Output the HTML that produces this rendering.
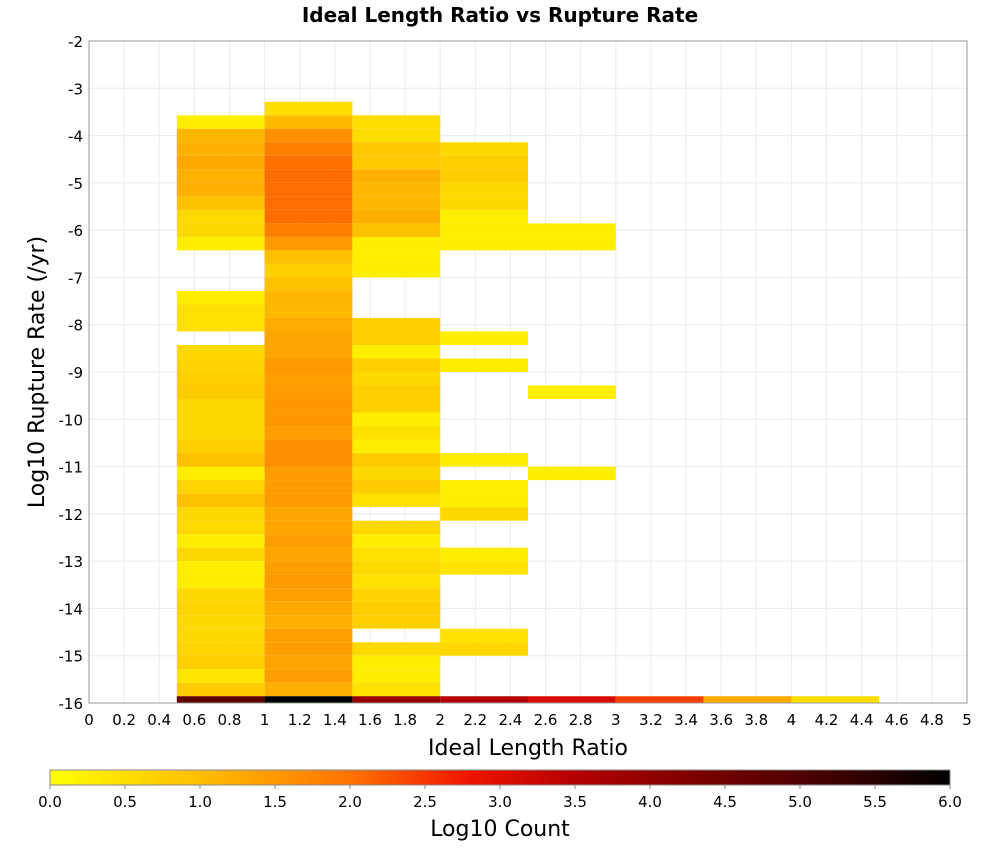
<!DOCTYPE html>
<html><head><meta charset="utf-8"><style>
body{margin:0;background:#fff;}
svg text{font-family:"DejaVu Sans","Liberation Sans",sans-serif;}
</style></head><body>
<svg id="chart" width="1000" height="850" xmlns="http://www.w3.org/2000/svg">
<text x="500" y="22" text-anchor="middle" font-size="20" font-weight="bold">Ideal Length Ratio vs Rupture Rate</text>
<g id="grid"></g>
<g id="cells"></g>
<rect x="89" y="41" width="878" height="662" fill="none" stroke="#999" stroke-width="1"/>
<g id="xticks"></g>
<g id="yticks"></g>
<text x="528" y="755" text-anchor="middle" font-size="22">Ideal Length Ratio</text>
<text transform="translate(44,372) rotate(-90)" text-anchor="middle" font-size="22">Log10 Rupture Rate (/yr)</text>
<defs><linearGradient id="cbg" x1="0" x2="1" y1="0" y2="0"></linearGradient></defs>
<rect x="50" y="770" width="900" height="15" fill="url(#cbg)" stroke="#888" stroke-width="1"/>
<g id="cbticks"></g>
<text x="500" y="836" text-anchor="middle" font-size="22">Log10 Count</text>
</svg>
<script>
const binWidthX = 0.5;
const binHeightY = 14/49;
const xBinStarts = [0.5,1,1.5,2,2.5,3,3.5,4];
const col0 = [null,.26,1.08,1.19,1.29,1.19,1.19,.97,.6,.6,.26,null,null,null,.26,.48,.48,null,.6,.65,.72,.78,.6,.6,.6,.72,.97,.26,.65,.97,.6,.6,.26,.6,.26,.26,.6,.65,.6,.6,.65,.72,.4,.78,4.7];
const col1 = [.52,1.04,1.61,1.84,2.03,2.05,2.05,2.05,2.03,1.83,1.48,.97,.72,.97,1.08,1.08,1.27,1.33,1.33,1.48,1.4,1.45,1.51,1.51,1.43,1.64,1.64,1.45,1.45,1.45,1.33,1.33,1.43,1.33,1.4,1.48,1.4,1.29,1.19,1.4,1.4,1.33,1.43,1.19,6.0];
const col2 = [null,.52,.52,.85,.78,1.19,1.08,1.08,1.19,.97,.26,.26,.26,null,null,null,.72,.72,.26,.72,.6,.72,.72,.26,.45,.26,.78,.6,.78,.48,null,.6,.26,.48,.6,.48,.65,.78,.72,null,.6,.26,.26,.45,3.9];
const col3 = [null,null,null,.6,.72,.78,.6,.6,.26,.26,.26,null,null,null,null,null,null,.26,null,.26,null,null,null,null,null,null,.26,null,.26,.26,.6,null,null,.26,.4,null,null,null,null,.45,.6,null,null,null,3.5];
const col4 = [null,null,null,null,null,null,null,null,null,.26,.26,null,null,null,null,null,null,null,null,null,null,.26,null,null,null,null,null,.26,null,null,null,null,null,null,null,null,null,null,null,null,null,null,null,null,3.1];
const col5 = [2.43];
const col6 = [1.27];
const col7 = [0.52];
const xTickLabels = ["0","0.2","0.4","0.6","0.8","1","1.2","1.4","1.6","1.8","2","2.2","2.4","2.6","2.8","3","3.2","3.4","3.6","3.8","4","4.2","4.4","4.6","4.8","5"];
const yTickLabels = ["-2","-3","-4","-5","-6","-7","-8","-9","-10","-11","-12","-13","-14","-15","-16"];
const cbTickLabels = ["0.0","0.5","1.0","1.5","2.0","2.5","3.0","3.5","4.0","4.5","5.0","5.5","6.0"];
const stops = [[0,255,255,0],[1,255,190,0],[2,255,115,0],[2.8,240,20,0],[3.5,180,0,0],[4.5,110,0,0],[5,80,0,0],[6,0,0,0]];

const NS="http://www.w3.org/2000/svg";
const PX0=89,PX1=967,PY0=41,PY1=703;
const xs=v=>PX0+(v-0)/5*(PX1-PX0);
const ys=v=>PY0+(-2-v)/14*(PY1-PY0);
const cbx=v=>50+v/6*900;
function color(v){
  for(let i=0;i<stops.length-1;i++){const a=stops[i],b=stops[i+1];
    if(v<=b[0]){const f=(v-a[0])/(b[0]-a[0]);
      return `rgb(${Math.round(a[1]+f*(b[1]-a[1]))},${Math.round(a[2]+f*(b[2]-a[2]))},${Math.round(a[3]+f*(b[3]-a[3]))})`;}}
  return "rgb(0,0,0)";
}
function mk(tag,attrs,parent){const e=document.createElementNS(NS,tag);for(const k in attrs)e.setAttribute(k,attrs[k]);parent.appendChild(e);return e;}
const grid=document.getElementById('grid');
xTickLabels.forEach(l=>{const x=xs(parseFloat(l));
  const ln=mk('line',{x1:x,x2:x,y1:PY0,y2:PY1,stroke:'#ebebeb','stroke-width':1},grid);
  
  });
yTickLabels.forEach(l=>{const y=ys(parseFloat(l));
  const ln=mk('line',{x1:PX0,x2:PX1,y1:y,y2:y,stroke:'#ebebeb','stroke-width':1},grid);
  
  });
const cells=document.getElementById('cells');
const cols=[col0,col1,col2,col3,col4,col5,col6,col7];
cols.forEach((col,ci)=>{
  const n=col.length;
  col.forEach((v,t)=>{
    if(v===null)return;
    const k=(ci<5?44:0)-(ci<5?t:0)-(ci<5?0:0);
    const kk=ci<5?44-t:0;
    const center=-16+kk*binHeightY;
    let yt=ys(center+binHeightY/2), yb=Math.min(ys(center-binHeightY/2),PY1);
    const x0=xs(xBinStarts[ci]), x1=xs(xBinStarts[ci]+binWidthX);
    const r=mk('rect',{x:x0,y:yt,width:x1-x0,height:yb-yt,fill:color(v)},cells);
    
    
  });
});
const xt=document.getElementById('xticks');
xTickLabels.forEach(l=>{const t=mk('text',{x:xs(parseFloat(l)),y:725,'text-anchor':'middle','font-size':15},xt);t.textContent=l;
  
  });
const yt=document.getElementById('yticks');
yTickLabels.forEach(l=>{const t=mk('text',{x:83,y:ys(parseFloat(l))+6,'text-anchor':'end','font-size':15},yt);t.textContent=l;
  
  });
const g=document.getElementById('cbg');
stops.forEach(s=>mk('stop',{offset:(s[0]/6*100)+'%','stop-color':`rgb(${s[1]},${s[2]},${s[3]})`},g));
const cbt=document.getElementById('cbticks');
cbTickLabels.forEach(l=>{const x=cbx(parseFloat(l));
  const ln=mk('line',{x1:x,x2:x,y1:785,y2:789,stroke:'#888'},cbt);
  
  
  const t=mk('text',{x:x,y:807,'text-anchor':'middle','font-size':15},cbt);t.textContent=l;
  
  });
</script>
</body></html>
